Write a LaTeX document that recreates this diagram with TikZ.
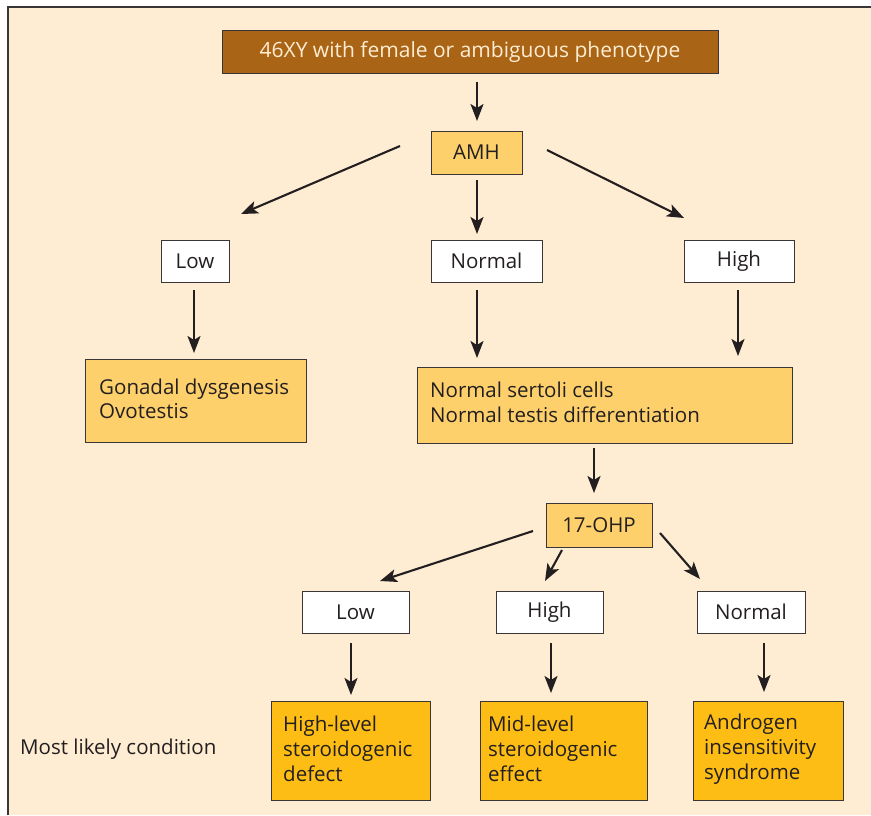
\documentclass[tikz,border=0pt]{standalone}
\usepackage{fontspec}
\setmainfont{Open Sans}
\usetikzlibrary{arrows.meta}
\definecolor{bg}{HTML}{FEEDD3}
\definecolor{brown}{HTML}{A96415}
\definecolor{lightor}{HTML}{FDD06B}
\definecolor{deepor}{HTML}{FDBD14}
\definecolor{ink}{HTML}{231F20}
\definecolor{frame}{HTML}{3A3536}
\begin{document}
\begin{tikzpicture}[x=1pt,y=-1pt,
  box/.style={draw=frame,line width=0.9pt,inner sep=0pt,text=ink,font=\fontsize{20.5}{24}\selectfont},
  whitebox/.style={box,fill=white},
  ambox/.style={box,fill=lightor},
  gbox/.style={box,fill=deepor},
  lbl/.style={text=ink,anchor=west,align=left,inner sep=0pt},
  arr/.style={draw=ink,line width=2.1pt,-{Stealth[length=17pt,width=13pt,inset=4pt]}}]
\useasboundingbox (0,0) rectangle (871,815);
\fill[bg] (8,7) rectangle (871,815);
\draw[frame,line width=1.6pt] (8,815) -- (8,7) -- (871,7);
% top
\node[box,fill=brown,text=bg,minimum width=496pt,minimum height=43pt,font=\fontsize{21}{25}\selectfont] (top) at (470,51.5) {46XY with female or ambiguous phenotype};
\node[ambox,minimum width=91pt,minimum height=43pt] (amh) at (476.5,152.5) {AMH};
\node[whitebox,minimum width=68pt,minimum height=42pt] (low1) at (195,261) {Low};
\node[whitebox,minimum width=111pt,minimum height=42pt] (norm1) at (486.5,261) {Normal};
\node[whitebox,minimum width=110pt,minimum height=42pt] (high1) at (739,261) {High};
\node[ambox,minimum width=221pt,minimum height=83pt] (gon) at (195.5,400.5) {};
\node[ambox,minimum width=375pt,minimum height=76pt] (sert) at (604.5,405) {};
\node[lbl,font=\fontsize{20.5}{24}\selectfont] (gont) at (99,399) {Gonadal dysgenesis\\Ovotestis};
\node[lbl,font=\fontsize{20.5}{25}\selectfont] (sertt) at (430,402) {Normal sertoli cells\\Normal testis differentiation};
\node[ambox,minimum width=106pt,minimum height=44pt] (ohp) at (599,525) {17-OHP};
\node[whitebox,minimum width=107pt,minimum height=42pt] (low2) at (355.5,612) {Low};
\node[whitebox,minimum width=107pt,minimum height=42pt] (high2) at (549.5,612) {High};
\node[whitebox,minimum width=108pt,minimum height=42pt] (norm2) at (751,612) {Normal};
\node[gbox,minimum width=159pt,minimum height=99pt] (b1) at (350.5,750.5) {};
\node[gbox,minimum width=167pt,minimum height=99pt] (b2) at (563.5,750.5) {};
\node[gbox,minimum width=150pt,minimum height=99pt] (b3) at (768,750.5) {};
\node[lbl,font=\fontsize{20.5}{25}\selectfont] (b1t) at (283,749) {High-level\\steroidogenic\\defect};
\node[lbl,font=\fontsize{20.5}{25}\selectfont] (b2t) at (488,749) {Mid-level\\steroidogenic\\effect};
\node[lbl,font=\fontsize{20.5}{25}\selectfont] (b3t) at (704,749) {Androgen\\insensitivity\\syndrome};
\node[lbl,font=\fontsize{20.5}{24}\selectfont] (mlc) at (20,749) {Most likely condition};
% arrow end coordinates
\coordinate (a1s) at (477,82); \coordinate (a1e) at (477,121);
\coordinate (a2s) at (400,146); \coordinate (a2e) at (241,214);
\coordinate (a3s) at (477,180); \coordinate (a3e) at (477,234);
\coordinate (a4s) at (547,150); \coordinate (a4e) at (684,218);
\coordinate (a5s) at (194,290); \coordinate (a5e) at (194,353);
\coordinate (a6s) at (477,290); \coordinate (a6e) at (477,358);
\coordinate (a7s) at (738,290); \coordinate (a7e) at (738,356);
\coordinate (a8s) at (594,448); \coordinate (a8e) at (594,493);
\coordinate (a9s) at (533,531); \coordinate (a9e) at (380,581);
\coordinate (a10s) at (562,550); \coordinate (a10e) at (545,581);
\coordinate (a11s) at (660,533); \coordinate (a11e) at (700,579);
\coordinate (a12s) at (351,643); \coordinate (a12e) at (351,695);
\coordinate (a13s) at (551,643); \coordinate (a13e) at (551,693);
\coordinate (a14s) at (764,643); \coordinate (a14e) at (764,692);
\foreach \i in {1,...,14} {\draw[arr] (a\i s) -- (a\i e);}
\end{tikzpicture}
\end{document}
